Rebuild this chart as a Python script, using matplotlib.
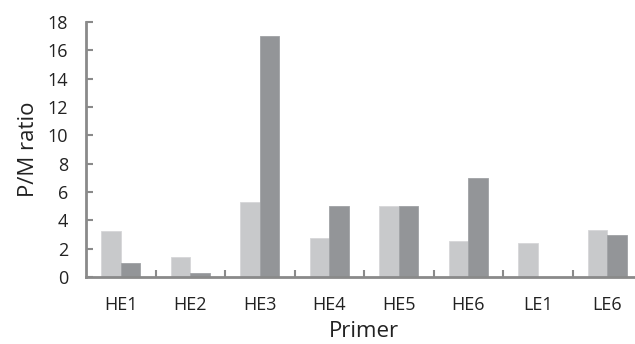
import numpy as np
import matplotlib.pyplot as plt

plt.rcParams['font.family'] = ['Open Sans', 'DejaVu Sans']

primers = ["HE1", "HE2", "HE3", "HE4", "HE5", "HE6", "LE1", "LE6"]
series_light = [3.25, 1.43, 5.3, 2.75, 5.0, 2.56, 2.38, 3.32]
series_dark = [1.0, 0.3, 17.0, 5.0, 5.0, 7.0, 0.0, 3.0]

light_col = "#c8c9cb"
dark_col = "#939598"
axis_col = "#8a8a8a"

fig = plt.figure(figsize=(6.35, 3.44), dpi=100)
ax = fig.add_axes([86 / 635, 67 / 344, 556 / 635, 255 / 344])

x = np.arange(len(primers))
w = 0.283
ax.bar(x - w / 2, series_light, w, color=light_col, edgecolor="#d6d7d9", linewidth=0.6)
ax.bar(x + w / 2, series_dark, w, color=dark_col, edgecolor="#a0a2a5", linewidth=0.6)

ax.set_xlim(-0.5, len(primers) - 0.5)
ax.set_ylim(0, 18)
ax.set_yticks(range(0, 19, 2))

ax.set_xticks(x)
ax.set_xticklabels(primers)
ax.set_xticks(np.arange(0.5, len(primers) - 0.5, 1), minor=True)
ax.tick_params(axis="x", which="major", length=0, pad=14, labelsize=13, colors="#222222")
ax.tick_params(axis="x", which="minor", direction="in", length=5, width=1.5, color=axis_col)
ax.tick_params(axis="y", direction="in", length=5, width=1.5, color=axis_col,
               pad=13, labelsize=13, labelcolor="#222222")

for s in ["top", "right"]:
    ax.spines[s].set_visible(False)
for s in ["left", "bottom"]:
    ax.spines[s].set_color(axis_col)
    ax.spines[s].set_linewidth(2)

ax.set_ylabel("P/M ratio", fontsize=16, color="#222222", labelpad=6)
ax.set_xlabel("Primer", fontsize=16, color="#222222", labelpad=5)

fig.savefig("out.png", dpi=100)
